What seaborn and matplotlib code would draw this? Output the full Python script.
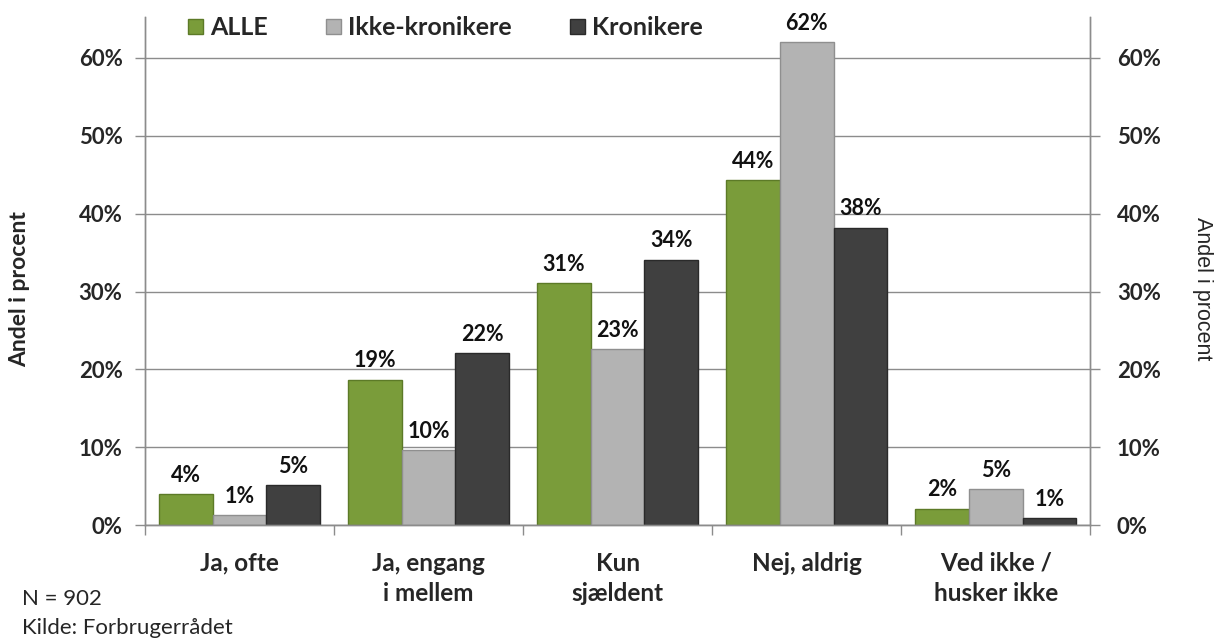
import matplotlib as mpl
import matplotlib.pyplot as plt
import seaborn as sns
import pandas as pd
from matplotlib.patches import Patch
from matplotlib.ticker import FixedLocator, PercentFormatter

categories = ["Ja, ofte", "Ja, engang\ni mellem", "Kun\nsjældent", "Nej, aldrig", "Ved ikke /\nhusker ikke"]
groups = ["ALLE", "Ikke-kronikere", "Kronikere"]
alle = [4.0, 18.7, 31.1, 44.3, 2.1]
ikke_kronikere = [1.3, 9.6, 22.6, 62.0, 4.6]
kronikere = [5.1, 22.1, 34.1, 38.2, 0.9]
yticks = [0, 10, 20, 30, 40, 50, 60]

colors = {"ALLE": "#7a9c3a", "Ikke-kronikere": "#b3b3b3", "Kronikere": "#404040"}
edges = {"ALLE": "#5c7a27", "Ikke-kronikere": "#8f8f8f", "Kronikere": "#2a2a2a"}

df = pd.DataFrame({
    "kategori": categories * 3,
    "gruppe": [g for g in groups for _ in categories],
    "andel": alle + ikke_kronikere + kronikere,
})

sns.set_theme(style="white")
mpl.rcParams.update({
    "font.family": ["Lato", "DejaVu Sans"],
    "axes.edgecolor": "#8c8c8c",
    "axes.linewidth": 1.0,
})

fig = plt.figure(figsize=(12.17, 6.42), dpi=100)
ax = fig.add_axes([0.119, 0.182, 0.777, 0.792])

sns.barplot(data=df, x="kategori", y="andel", hue="gruppe", palette=colors,
            width=0.85, saturation=1, ax=ax, legend=False)

for container, g in zip(ax.containers, groups):
    for bar in container:
        bar.set_edgecolor(edges[g])
        bar.set_linewidth(1.0)
    ax.bar_label(container, labels=[f"{v:.0f}%" for v in container.datavalues],
                 padding=6, fontsize=15.5, fontweight="bold", color="#111111")

ax.set_xlim(-0.5, len(categories) - 0.5)
ax.set_ylim(0, 65.3)
ax.set_yticks(yticks)
ax.yaxis.set_major_formatter(PercentFormatter(decimals=0))
ax.yaxis.grid(True, color="#8c8c8c", linewidth=1.0)
ax.set_axisbelow(True)
ax.set_xlabel("")
ax.set_ylabel("")

ax.spines["top"].set_visible(False)
ax.spines["right"].set_visible(True)

ax.tick_params(axis="y", which="major", direction="out", length=7, width=1,
               color="#8c8c8c", labelsize=16, pad=9)
for lbl in ax.get_yticklabels():
    lbl.set_fontweight("bold")

ax.xaxis.set_minor_locator(FixedLocator([i - 0.5 for i in range(len(categories) + 1)]))
ax.tick_params(axis="x", which="major", length=0, labelsize=17.5, pad=19)
ax.tick_params(axis="x", which="minor", direction="out", length=7, width=1,
               color="#8c8c8c", bottom=True)
for lbl in ax.get_xticklabels():
    lbl.set_fontweight("bold")
    lbl.set_linespacing(1.4)

ax2 = ax.twinx()
ax2.set_ylim(ax.get_ylim())
ax2.set_yticks(yticks)
ax2.yaxis.set_major_formatter(PercentFormatter(decimals=0))
ax2.tick_params(axis="y", direction="out", length=7, width=1, color="#8c8c8c",
                labelsize=16, pad=12)
for lbl in ax2.get_yticklabels():
    lbl.set_fontweight("bold")
ax2.spines["top"].set_visible(False)
ax2.grid(False)

handles = [Patch(facecolor=colors[g], edgecolor=edges[g], label=g) for g in groups]
ax.legend(handles=handles, loc="upper left", bbox_to_anchor=(0.022, 1.045), ncol=3,
          frameon=False, prop={"size": 18, "weight": "bold"}, handlelength=0.6,
          handleheight=0.6, handletextpad=0.3, columnspacing=2.3)

fig.text(0.016, 0.55, "Andel i procent", rotation=90, va="center", ha="center",
         fontsize=16.5, fontweight="bold")
fig.text(0.988, 0.55, "Andel i procent", rotation=270, va="center", ha="center",
         fontsize=15.5, family=["Liberation Sans", "DejaVu Sans"])
fig.text(0.018, 1 - 605 / 642, "N = 902", va="baseline", ha="left", fontsize=16)
fig.text(0.018, 1 - 634 / 642, "Kilde: Forbrugerrådet", va="baseline", ha="left",
         fontsize=16)

fig.savefig("out.png", dpi=100)
